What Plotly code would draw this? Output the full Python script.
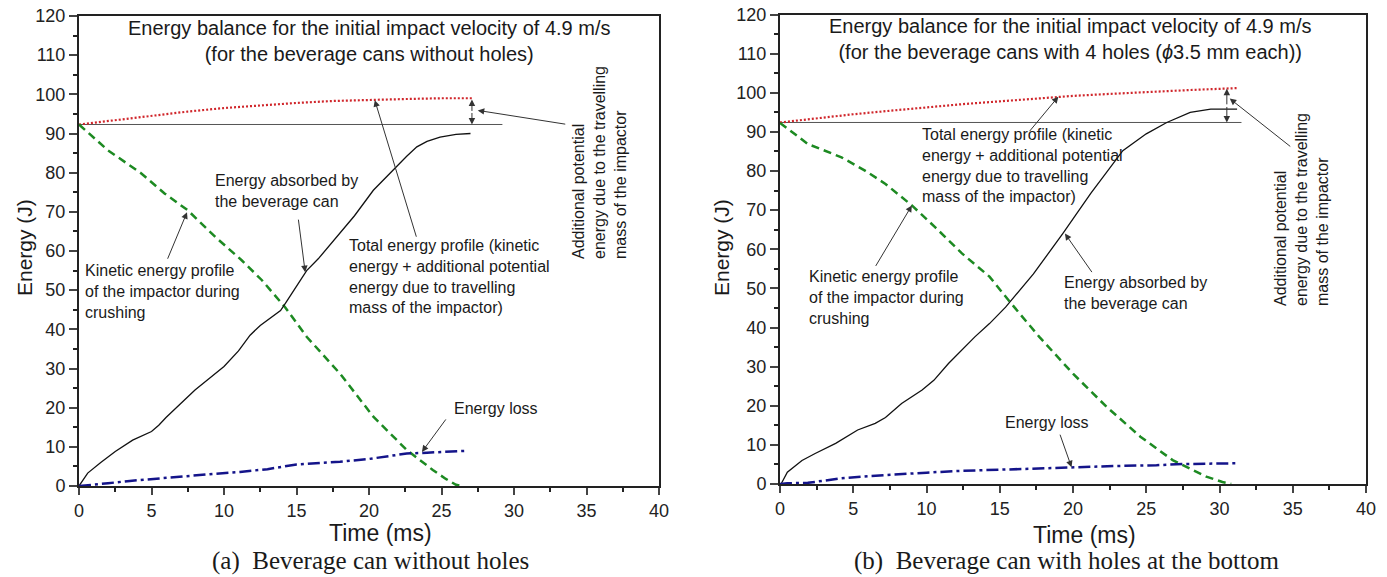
import plotly.graph_objects as go

W, H = 1387, 577

# ---------------- data: (a) can without holes ----------------
t_a_abs = [0, 0.3, 0.6, 1.5, 2.5, 3.7, 4.3, 5, 5.5, 6, 7, 8, 9, 10, 11, 11.8, 12.5, 13.4, 13.9, 14.3,
           15, 15.7, 16.5, 18, 19, 20.3, 21.2, 21.9, 22.6, 23.3, 24, 24.9, 26, 27]
e_a_abs = [0, 1.5, 3.3, 6, 8.8, 11.7, 12.8, 13.9, 15.5, 17.5, 21, 24.5, 27.5, 30.5, 34.5, 38.5, 41, 43.5, 44.8, 47,
           51, 55, 58, 64.5, 69, 75.5, 79, 81.5, 84.2, 86.6, 88, 89.1, 89.8, 90]
t_a_tot = [0, 2.5, 5, 7.5, 10, 12.5, 15, 17.5, 20, 22.5, 25, 27.1]
e_a_tot = [92.3, 93.4, 94.5, 95.6, 96.5, 97.2, 97.8, 98.3, 98.6, 98.8, 99.0, 99.0]
t_a_kin = [0, 2, 4.3, 5.9, 7.5, 9.4, 11.2, 12.6, 14.2, 15.7, 18, 20.3, 22.6, 24.4, 25.3, 26.0, 26.4]
e_a_kin = [92.3, 85.7, 79.8, 74.7, 70.4, 63.6, 57.7, 52.6, 45.7, 38.1, 28.7, 17.7, 9.2, 4.1, 1.8, 0.3, 0]
t_a_loss = [0, 1, 2, 3.5, 5, 7, 9, 11.1, 13, 15, 18, 20, 22.6, 24, 26.8]
e_a_loss = [0, 0.3, 0.7, 1.3, 1.8, 2.3, 3.0, 3.6, 4.3, 5.5, 6.2, 6.9, 8.3, 8.5, 9.0]
t_a_ref = [0, 29.2]
e_a_ref = [92.3, 92.3]

# ---------------- data: (b) can with 4 holes ----------------
t_b_abs = [0, 0.1, 0.5, 1, 1.5, 2.4, 3.8, 5.3, 6.5, 7.2, 8.3, 9.7, 10.5, 11.5, 13.3, 14.3, 15.4, 17.3,
           19.3, 21.2, 23.4, 25, 26.4, 28, 29.4, 31.2]
e_b_abs = [0, 0.2, 3, 4.5, 6, 7.8, 10.4, 13.8, 15.5, 17, 20.6, 24, 26.5, 30.8, 37.6, 41, 45.2, 53.7,
           64, 74.2, 85.2, 89.5, 92.4, 95, 95.8, 95.8]
t_b_tot = [0, 2.5, 5, 7.5, 10, 12.5, 15, 17.5, 20, 22.5, 25, 28, 31.3]
e_b_tot = [92.4, 93.5, 94.5, 95.4, 96.3, 97.1, 97.8, 98.5, 99.2, 99.7, 100.2, 100.7, 101.2]
t_b_kin = [0, 1.9, 4.2, 5.8, 7.2, 9, 10.6, 12.4, 14.3, 15.7, 17.7, 20, 22.3, 24.6, 26.8, 28, 29.1, 30.2, 30.8]
e_b_kin = [92.3, 86.9, 83.5, 80.1, 76.7, 71.2, 65.6, 59, 53, 46.5, 37.6, 28.2, 19.7, 12.1, 6.1, 3.8, 1.9, 0.5, 0]
t_b_loss = [0, 0.5, 1.9, 3, 4.2, 6, 8.7, 10, 12, 14.3, 17, 20, 23, 25.7, 27.5, 31.2]
e_b_loss = [0, 0.2, 0.3, 0.9, 1.45, 2, 2.7, 2.9, 3.3, 3.6, 4.0, 4.4, 4.6, 4.8, 5.1, 5.3]
t_b_ref = [0, 31.5]
e_b_ref = [92.4, 92.4]

x_ticks = [0, 5, 10, 15, 20, 25, 30, 35, 40]
y_ticks = [0, 10, 20, 30, 40, 50, 60, 70, 80, 90, 100, 110, 120]

SANS = "Liberation Sans, Arial, sans-serif"
SERIF = "Liberation Serif, Times New Roman, serif"


def P(px, py):
    # pixel -> paper coords
    return px / W, 1 - py / H


fig = go.Figure()


def add_panel(xa, ya, t_ref, e_ref, t_tot, e_tot, t_kin, e_kin, t_abs, e_abs, t_loss, e_loss):
    fig.add_trace(go.Scatter(x=t_ref, y=e_ref, mode="lines", xaxis=xa, yaxis=ya,
                             line=dict(color="#555555", width=1)))
    fig.add_trace(go.Scatter(x=t_tot, y=e_tot, mode="lines", xaxis=xa, yaxis=ya,
                             line=dict(color="#d0262b", width=2.2, dash="2px,2px")))
    fig.add_trace(go.Scatter(x=t_kin, y=e_kin, mode="lines", xaxis=xa, yaxis=ya,
                             line=dict(color="#1d8a22", width=2.5, dash="8px,5px")))
    fig.add_trace(go.Scatter(x=t_abs, y=e_abs, mode="lines", xaxis=xa, yaxis=ya,
                             line=dict(color="#111111", width=1.3)))
    fig.add_trace(go.Scatter(x=t_loss, y=e_loss, mode="lines", xaxis=xa, yaxis=ya,
                             line=dict(color="#14148a", width=2.5, dash="12px,4px,3px,4px")))


add_panel("x", "y", t_a_ref, e_a_ref, t_a_tot, e_a_tot, t_a_kin, e_a_kin, t_a_abs, e_a_abs, t_a_loss, e_a_loss)
add_panel("x2", "y2", t_b_ref, e_b_ref, t_b_tot, e_b_tot, t_b_kin, e_b_kin, t_b_abs, e_b_abs, t_b_loss, e_b_loss)

xax = dict(range=[0, 40], tickvals=x_ticks, ticks="outside", ticklen=7, tickwidth=1.5, automargin=False,
           showline=True, linewidth=2, linecolor="#222", mirror=True, showgrid=False, zeroline=False,
           tickfont=dict(family=SANS, size=18, color="#222"),
           minor=dict(dtick=2.5, ticks="outside", ticklen=4, tickwidth=1.5, tickcolor="#222"))
yax = dict(range=[0, 120], tickvals=y_ticks, ticks="outside", ticklen=8, tickwidth=1.5, automargin=False,
           showline=True, linewidth=2, linecolor="#222", mirror=True, showgrid=False, zeroline=False,
           tickfont=dict(family=SANS, size=18, color="#222"),
           minor=dict(dtick=5, ticks="outside", ticklen=4, tickwidth=1.5, tickcolor="#222"))

fig.update_layout(
    width=W, height=H, autosize=False,
    margin=dict(l=0, r=0, t=0, b=0, pad=0, autoexpand=False),
    paper_bgcolor="white", plot_bgcolor="white",
    showlegend=False,
    xaxis=dict(xax, domain=[79 / W, 659 / W], anchor="y"),
    yaxis=dict(yax, domain=[(H - 486) / H, (H - 16) / H], anchor="x"),
    xaxis2=dict(xax, domain=[780 / W, 1366 / W], anchor="y2"),
    yaxis2=dict(yax, domain=[(H - 484) / H, (H - 14.5) / H], anchor="x2"),
)

ann = []


def txt(px, py, text, size=16, xanchor="left", family=SANS, angle=0, align="left"):
    x, y = P(px, py)
    ann.append(dict(x=x, y=y, xref="paper", yref="paper", text=text, showarrow=False,
                    xanchor=xanchor, yanchor="middle", align=align, textangle=angle,
                    font=dict(family=family, size=size, color="#1a1a1a")))


def arrow(xr, yr, x, y, ax, ay):
    ann.append(dict(x=x, y=y, xref=xr, yref=yr, ax=ax, ay=ay, text="", showarrow=True,
                    arrowhead=2, arrowsize=1.3, arrowwidth=1, arrowcolor="#333"))


# ----- panel (a) -----
txt(369, 41, "Energy balance for the initial impact velocity of 4.9 m/s<br>(for the beverage cans without holes)",
    size=20, xanchor="center", align="center")
txt(213, 191, "Energy absorbed by<br>the beverage can")
txt(83, 291, "Kinetic energy profile<br>of the impactor during<br>crushing")
txt(347, 276, "Total energy profile (kinetic<br>energy + additional potential<br>energy due to travelling<br>mass of the impactor)")
txt(452, 408, "Energy loss")
txt(599, 163, "Additional potential<br>energy due to the travelling<br>mass of the impactor", xanchor="center", angle=-90)
arrow("x", "y", 15.6, 54.6, -7, -54)
arrow("x", "y", 7.45, 69.9, -20, 48)
arrow("x", "y", 20.4, 98.5, 42, 138)
arrow("x", "y", 27.5, 95.9, 89, 14)
arrow("x", "y", 27.1, 98.7, 0, 13)
arrow("x", "y", 27.1, 92.3, 0, -13)
arrow("x", "y", 23.65, 8.7, 25, -34)
txt(25, 248, "Energy (J)", size=21, xanchor="center", angle=-90)
txt(380, 533, "Time (ms)", size=23, xanchor="center")
txt(370, 561, "(a)  Beverage can without holes", size=25, xanchor="center", family=SERIF)

# ----- panel (b) -----
txt(1070, 39, "Energy balance for the initial impact velocity of 4.9 m/s<br>"
              "(for the beverage cans with 4 holes (<i>ϕ</i>3.5 mm each))",
    size=20, xanchor="center", align="center")
txt(920, 165, "Total energy profile (kinetic<br>energy + additional potential<br>energy due to travelling<br>mass of the impactor)")
txt(807, 297, "Kinetic energy profile<br>of the impactor during<br>crushing")
txt(1062, 293, "Energy absorbed by<br>the beverage can")
txt(1003, 422, "Energy loss")
txt(1301, 210, "Additional potential<br>energy due to the travelling<br>mass of the impactor", xanchor="center", angle=-90)
arrow("x2", "y2", 19.0, 99.0, -30, 36)
arrow("x2", "y2", 9.0, 71.2, -37, 62)
arrow("x2", "y2", 19.45, 64.0, 28, 40)
arrow("x2", "y2", 19.9, 4.3, -12, -34)
arrow("x2", "y2", 30.7, 98.5, 62, 49)
arrow("x2", "y2", 30.5, 101.0, 0, 17)
arrow("x2", "y2", 30.5, 92.4, 0, -17)
txt(722, 248, "Energy (J)", size=21, xanchor="center", angle=-90)
txt(1084, 535, "Time (ms)", size=23, xanchor="center")
txt(1066, 561, "(b)  Beverage can with holes at the bottom", size=25, xanchor="center", family=SERIF)

fig.update_layout(annotations=ann)

# page body has a default 8px margin; drop it so the figure fills the window
fig.write_html("out.html", config={"displayModeBar": False},
               post_script="document.body.style.margin='0';")
